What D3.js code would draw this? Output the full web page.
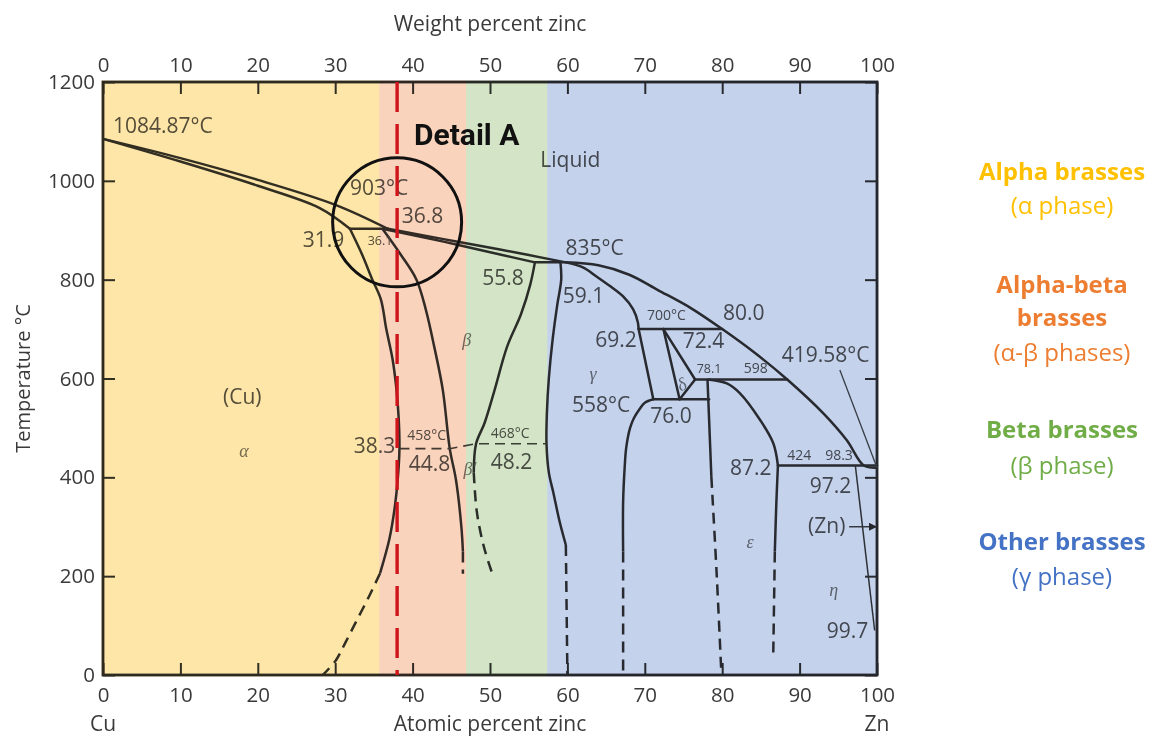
<!DOCTYPE html>
<html>
<head>
<meta charset="utf-8">
<script src="https://cdn.jsdelivr.net/npm/d3@7"></script>
<style>
  html, body { margin: 0; padding: 0; background: #fff; }
  svg { display: block; }
</style>
</head>
<body>
<svg id="chart" width="1155" height="736"></svg>
<script>
// ---- axis ticks ----
const atomicTicks = [0, 10, 20, 30, 40, 50, 60, 70, 80, 90, 100];
const weightTicks = [0, 10, 20, 30, 40, 50, 60, 70, 80, 90, 100];
const tempTicks = [0, 200, 400, 600, 800, 1000, 1200];

// ---- brass families shaded along the composition axis (at.% Zn) ----
const bandNames = ["Alpha brasses", "Alpha-beta brasses", "Beta brasses", "Other brasses"];
const bandStart = [0, 35.7, 46.9, 57.4];
const bandEnd = [35.7, 46.9, 57.4, 100];
const bandColors = ["#fde6a8", "#f9d3bb", "#d4e4c6", "#c4d2ec"];

// ---- legend text ----
const legendTitles = [["Alpha brasses"], ["Alpha-beta", "brasses"], ["Beta brasses"], ["Other brasses"]];
const legendPhases = ["(α phase)", "(α-β phases)", "(β phase)", "(γ phase)"];
const legendColors = ["#ffc000", "#ed7d31", "#70ad47", "#4472c4"];

// ---- phase boundaries, points are [at.% Zn, °C] ----
const liquidusCu = [[0, 1084.87], [10, 1046], [20, 1002], [30.1, 951], [36.8, 903]];
const solidusCu = [[0, 1084.87], [10, 1039], [20, 990], [28, 945], [31.9, 903]];
const peritectic903 = [[31.9, 903], [36.8, 903]];
const alphaSolvus = [[31.9, 903], [33.5, 850], [34.8, 800], [35.9, 760], [36.6, 700], [37.4, 640], [37.9, 580],
  [38.2, 520], [38.3, 458], [38.1, 400], [37.7, 340], [37.0, 275], [35.8, 206]];
const alphaSolvusLow = [[35.8, 206], [34.4, 160], [32.8, 111], [31.3, 65], [30.1, 30], [28.4, 0]];
const betaLeft = [[36.1, 903], [38.5, 850], [40.5, 800], [41.7, 740], [42.8, 664], [43.9, 577], [44.8, 458],
  [45.6, 395], [46.3, 300], [46.5, 250]];
const betaLeftLow = [[46.5, 250], [46.5, 205]];
const liquidusMid = [[36.8, 903], [44, 882], [51.3, 861], [59.8, 835]];
const betaSolidus = [[36.1, 903], [44, 877], [51.3, 851], [55.8, 835]];
const peritectic835 = [[55.8, 835], [59.8, 835]];
const betaRight = [[55.8, 835], [55.2, 790], [54.0, 730], [52.2, 664], [50.6, 577], [49.3, 510], [48.2, 468], [47.9, 410]];
const betaRightLow = [[47.9, 410], [48.3, 330], [49.2, 260], [50.3, 205]];
const gammaLeft = [[59.1, 835], [59.2, 800], [58.7, 750], [58.1, 680], [57.6, 600], [57.35, 530], [57.3, 468],
  [57.6, 410], [58.2, 368], [59.0, 310], [59.8, 263]];
const gammaLeftLow = [[59.8, 263], [60.0, 0]];
const liquidusZn = [[59.8, 835], [64, 829], [68, 810], [71.7, 779], [76, 742], [80.0, 700], [84.2, 652],
  [88.4, 598], [93.1, 529], [96.1, 475], [98.3, 424], [100, 419.58]];
const gammaSolidus = [[59.8, 835], [62, 825], [63.8, 806], [65.6, 786], [67.2, 766], [68.5, 740], [69.1, 714], [69.2, 700]];
const peritectic700 = [[69.2, 700], [80.0, 700]];
const gammaRight = [[69.2, 700], [71.1, 558]];
const deltaLeft = [[72.4, 700], [74.5, 558]];
const deltaUpper = [[72.4, 700], [76.5, 598]];
const deltaLower = [[76.5, 598], [74.5, 558]];
const peritectic598 = [[76.5, 598], [88.4, 598]];
const eutectoid558 = [[71.1, 558], [78.3, 558]];
const epsLeft = [[78.1, 598], [78.3, 520], [78.6, 401]];
const epsLeftLow = [[78.6, 401], [79.3, 200], [79.9, 0]];
const epsSolidus = [[78.1, 598], [80.6, 590], [82.3, 570], [84.9, 516], [86.6, 469], [87.2, 424]];
const peritectic424 = [[87.2, 424], [100, 424]];
const epsRight = [[87.2, 424], [87.0, 350], [86.8, 250]];
const epsRightLow = [[86.8, 250], [86.6, 45]];
const gammaLow = [[71.1, 558], [70.0, 551], [69.4, 540], [68.6, 520], [68.1, 500], [67.6, 460], [67.4, 420], [67.2, 350], [67.2, 250]];
const gammaLowDash = [[67.2, 250], [67.2, 0]];
const etaSolvus = [[97.2, 424], [99.7, 90]];
const orderingLine = [[38.3, 458], [44.8, 458], [48.2, 468], [57.3, 468]];
const zincMeltLeader = [[95.2, 617], [100, 419.58]];
const zincArrow = [[96.4, 300], [100, 300]];

// ---- detail marker ----
const detailComposition = 38;
const detailCenter = [38, 916];

// ---- annotations: [text, at.% Zn, °C, kind] ----
const annotations = [
  ["1084.87°C", 1.3, 1097, "value"],
  ["Liquid", 56.5, 1028, "value"],
  ["903°C", 31.9, 971, "value"],
  ["36.8", 38.6, 914.6, "value"],
  ["31.9", 25.8, 866, "value"],
  ["36.1", 34.2, 870, "tiny"],
  ["55.8", 49.0, 789, "value"],
  ["835°C", 59.75, 850, "value"],
  ["59.1", 59.4, 753, "value"],
  ["700°C", 70.3, 718, "small"],
  ["80.0", 80.1, 718, "value"],
  ["69.2", 63.6, 663.7, "value"],
  ["72.4", 74.9, 661.7, "value"],
  ["419.58°C", 87.7, 633.3, "value"],
  ["78.1", 76.7, 611, "tiny"],
  ["598", 82.8, 611, "small"],
  ["558°C", 60.6, 532, "value"],
  ["76.0", 70.7, 510, "value"],
  ["87.2", 81.0, 404.7, "value"],
  ["424", 88.4, 435, "small"],
  ["98.3", 93.3, 435, "small"],
  ["97.2", 91.3, 368, "value"],
  ["(Zn)", 91.1, 287, "value"],
  ["99.7", 93.5, 75, "value"],
  ["(Cu)", 15.5, 548, "value"],
  ["38.3", 32.4, 449, "value"],
  ["458°C", 39.3, 475.5, "small"],
  ["44.8", 39.5, 412.8, "value"],
  ["468°C", 50.1, 479.6, "small"],
  ["48.2", 50.1, 416.8, "value"]
];
const phaseSymbols = [
  ["α", 18.2, 441],
  ["β", 47.0, 666],
  ["β′", 47.4, 405],
  ["γ", 63.3, 597],
  ["δ", 75.1, 577],
  ["ε", 83.6, 257],
  ["η", 94.4, 160]
];

// ---------------------------------------------------------------
const svg = d3.select("#chart");
const margin = { left: 103, right: 278, top: 82, bottom: 61 };
const W = 1155, H = 736;

const x = d3.scaleLinear().domain([0, 100]).range([margin.left, W - margin.right]);
const y = d3.scaleLinear().domain([0, 1200]).range([H - margin.bottom, margin.top]);

const FONT = "'Open Sans', 'Noto Sans', 'DejaVu Sans', sans-serif";
const INK = "#3a3a3a";

// axes with inward ticks
const gAxes = svg.append("g").attr("class", "axes");
function styleAxis(g) {
  g.select(".domain").remove();
  g.selectAll(".tick line").attr("stroke", "#333").attr("stroke-width", 2);
  g.selectAll(".tick text").attr("fill", INK).style("font-family", FONT).style("font-size", "20.5px");
}
gAxes.append("g").attr("transform", `translate(0,${y(0)})`)
  .call(d3.axisBottom(x).tickValues(atomicTicks).tickSize(-12).tickPadding(12).tickFormat(d3.format("d")))
  .call(styleAxis);
gAxes.append("g").attr("transform", `translate(0,${y(1200)})`)
  .call(d3.axisTop(x).tickValues(weightTicks).tickSize(-12).tickPadding(10).tickFormat(d3.format("d")))
  .call(styleAxis);
gAxes.append("g").attr("transform", `translate(${x(0)},0)`)
  .call(d3.axisLeft(y).tickValues(tempTicks).tickSize(-12).tickPadding(8).tickFormat(d3.format("d")))
  .call(styleAxis);
gAxes.append("g").attr("transform", `translate(${x(100)},0)`)
  .call(d3.axisRight(y).tickValues(tempTicks).tickSize(-12).tickFormat(""))
  .call(styleAxis);

// frame
svg.append("rect")
  .attr("x", x(0)).attr("y", y(1200))
  .attr("width", x(100) - x(0)).attr("height", y(0) - y(1200))
  .attr("fill", "none").attr("stroke", "#2e2e2e").attr("stroke-width", 2.8);

// axis titles
svg.append("text").attr("x", (x(0) + x(100)) / 2).attr("y", 31)
  .attr("text-anchor", "middle").attr("fill", INK)
  .style("font-family", FONT).style("font-size", "21px").text("Weight percent zinc");
svg.append("text").attr("x", (x(0) + x(100)) / 2).attr("y", 731)
  .attr("text-anchor", "middle").attr("fill", INK)
  .style("font-family", FONT).style("font-size", "21px").text("Atomic percent zinc");
svg.append("text").attr("x", x(0)).attr("y", 731)
  .attr("text-anchor", "middle").attr("fill", INK)
  .style("font-family", FONT).style("font-size", "21px").text("Cu");
svg.append("text").attr("x", x(100)).attr("y", 731)
  .attr("text-anchor", "middle").attr("fill", INK)
  .style("font-family", FONT).style("font-size", "21px").text("Zn");
svg.append("text")
  .attr("transform", `translate(30,${(y(0) + y(1200)) / 2}) rotate(-90)`)
  .attr("text-anchor", "middle").attr("fill", INK)
  .style("font-family", FONT).style("font-size", "20px").text("Temperature °C");

// phase boundaries
const smooth = d3.line().x(d => x(d[0])).y(d => y(d[1])).curve(d3.curveCatmullRom.alpha(0.5));
const straight = d3.line().x(d => x(d[0])).y(d => y(d[1]));
const LINE = "#333";
const LW = 2.5;

const solidCurves = [liquidusCu, solidusCu, alphaSolvus, betaLeft, liquidusMid, betaSolidus, betaRight,
  gammaLeft, liquidusZn, gammaSolidus, epsLeft, epsSolidus, epsRight, gammaLow];
const solidSegments = [peritectic903, peritectic835, peritectic700, gammaRight, deltaLeft, deltaUpper,
  deltaLower, peritectic598, eutectoid558, peritectic424];
const dashedCurves = [alphaSolvusLow, betaLeftLow, betaRightLow, gammaLeftLow, epsLeftLow, epsRightLow, gammaLowDash];

const gDiagram = svg.append("g").attr("class", "diagram").attr("fill", "none");
gDiagram.selectAll("path.solid").data(solidCurves).join("path")
  .attr("class", "solid").attr("d", smooth)
  .attr("stroke", LINE).attr("stroke-width", LW).attr("stroke-linejoin", "round");
gDiagram.selectAll("path.seg").data(solidSegments).join("path")
  .attr("class", "seg").attr("d", straight)
  .attr("stroke", LINE).attr("stroke-width", LW).attr("stroke-linecap", "round");
gDiagram.selectAll("path.dash").data(dashedCurves).join("path")
  .attr("class", "dash").attr("d", smooth)
  .attr("stroke", LINE).attr("stroke-width", LW).attr("stroke-dasharray", "11,7");
gDiagram.append("path").datum(orderingLine).attr("d", straight)
  .attr("stroke", "#444").attr("stroke-width", 1.6).attr("stroke-dasharray", "10,6");
gDiagram.append("path").datum(etaSolvus).attr("d", straight)
  .attr("stroke", "#3a3a3a").attr("stroke-width", 1.5);
gDiagram.append("path").datum(zincMeltLeader).attr("d", straight)
  .attr("stroke", "#4a4a4a").attr("stroke-width", 1.3);

// (Zn) pointer arrow
svg.append("defs").append("marker")
  .attr("id", "arrowHead").attr("viewBox", "0 0 10 10")
  .attr("refX", 10).attr("refY", 5)
  .attr("markerWidth", 10).attr("markerHeight", 8)
  .attr("markerUnits", "userSpaceOnUse").attr("orient", "auto")
  .append("path").attr("d", "M0,0 L10,5 L0,10 Z").attr("fill", "#2e2e2e");
gDiagram.append("path").datum(zincArrow).attr("d", straight)
  .attr("stroke", "#3a3a3a").attr("stroke-width", 1.4)
  .attr("marker-end", "url(#arrowHead)");

// labels
const labelSize = { value: "21px", small: "14px", tiny: "12.5px" };
gDiagram.selectAll("text.note").data(annotations).join("text")
  .attr("class", "note")
  .attr("x", d => x(d[1])).attr("y", d => y(d[2]))
  .attr("fill", "#555").attr("stroke", "none")
  .style("font-family", FONT).style("font-size", d => labelSize[d[3]])
  .text(d => d[0]);
gDiagram.selectAll("text.phase").data(phaseSymbols).join("text")
  .attr("class", "phase")
  .attr("transform", d => `translate(${x(d[1])},${y(d[2])})` + (d[0] === "δ" ? " rotate(-25)" : ""))
  .attr("text-anchor", "middle")
  .attr("fill", "#777").attr("stroke", "none")
  .style("font-family", "'Liberation Serif', 'DejaVu Serif', serif")
  .style("font-style", "italic").style("font-size", "18px")
  .text(d => d[0]);

// brass family bands tint everything beneath them
svg.append("g").attr("class", "bands")
  .selectAll("rect").data(bandNames).join("rect")
  .attr("x", (d, i) => x(bandStart[i]) - (i === 0 ? 1.4 : 0))
  .attr("width", (d, i) => x(bandEnd[i]) - x(bandStart[i]) + (i === 0 || i === bandNames.length - 1 ? 1.4 : 0))
  .attr("y", y(1200) - 1.4)
  .attr("height", y(0) - y(1200) + 2.8)
  .attr("fill", (d, i) => bandColors[i])
  .style("mix-blend-mode", "multiply");

// detail marker: composition line, circle and caption
svg.append("line")
  .attr("x1", x(detailComposition)).attr("x2", x(detailComposition))
  .attr("y1", y(1200)).attr("y2", y(0))
  .attr("stroke", "#d0141c").attr("stroke-width", 3.4).attr("stroke-dasharray", "30,12");
svg.append("circle")
  .attr("cx", x(detailCenter[0])).attr("cy", y(detailCenter[1])).attr("r", 64.5)
  .attr("fill", "none").attr("stroke", "#111").attr("stroke-width", 3);
svg.append("text")
  .attr("x", 414).attr("y", 145)
  .attr("fill", "#111")
  .style("font-family", "Roboto, 'Liberation Sans', sans-serif")
  .style("font-weight", 700).style("font-size", "30px")
  .text("Detail A");

// legend
const legendX = 1062;
const titleBaselines = [[180], [293, 326], [438], [550]];
const phaseBaselines = [214, 361, 474, 585];
const gLegend = svg.append("g").attr("class", "legend").attr("text-anchor", "middle");
legendTitles.forEach((lines, i) => {
  lines.forEach((t, j) => {
    gLegend.append("text").attr("x", legendX).attr("y", titleBaselines[i][j])
      .attr("fill", legendColors[i])
      .style("font-family", FONT).style("font-weight", 700).style("font-size", "24px")
      .text(t);
  });
  gLegend.append("text").attr("x", legendX).attr("y", phaseBaselines[i])
    .attr("fill", legendColors[i])
    .style("font-family", FONT).style("font-size", "24px")
    .text(legendPhases[i]);
});
</script>
</body>
</html>
